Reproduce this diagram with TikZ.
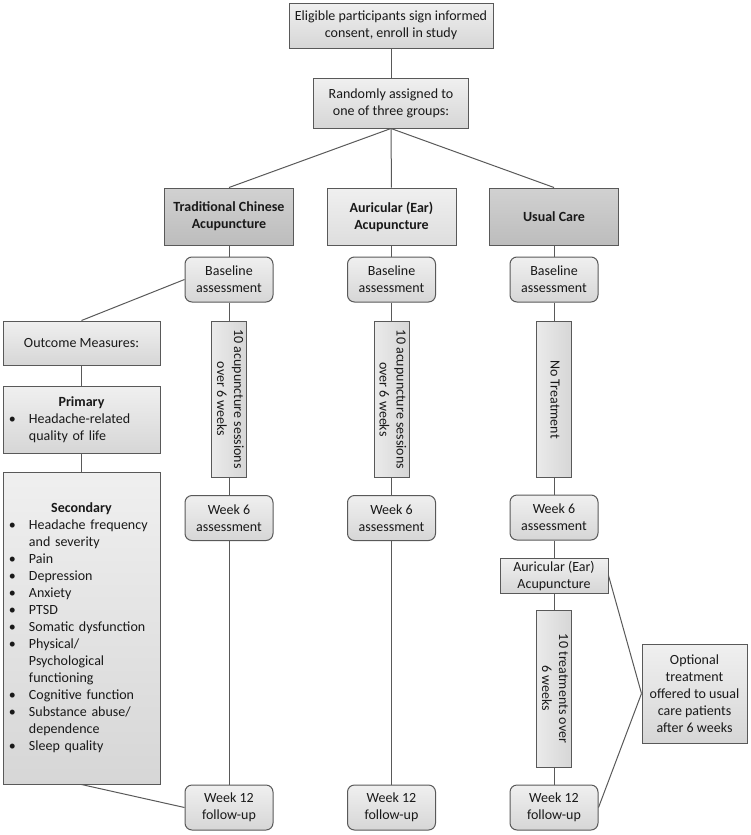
\documentclass[tikz,border=0pt]{standalone}
\usepackage{fontspec}
\setmainfont{Carlito}
\usepackage{graphicx}
\usetikzlibrary{positioning}

% bullet line with hanging indent
\newcommand{\bitem}[1]{\par\hangindent=24pt\hangafter=1\noindent\makebox[24pt][l]{\hspace{4pt}\textbullet}#1\par}
% text turned to read downwards
\newcommand{\vtext}[1]{\rotatebox[origin=c]{-90}{\begin{tabular}{@{}c@{}}#1\end{tabular}}}

\begin{document}
\begin{tikzpicture}[
  x=1pt, y=-1pt,
  box/.style={draw=black!65, line width=1pt, top color=gray!12, bottom color=gray!32,
    inner sep=2pt, align=center, text=black!90, font=\fontsize{14}{17}\selectfont},
  rbox/.style={box, rounded corners=7pt, minimum width=88pt, minimum height=45pt},
  grp/.style={box, minimum width=129pt, minimum height=57pt,
    font=\fontsize{14}{17}\selectfont\bfseries},
  dark/.style={top color=gray!36, bottom color=gray!52},
  vbox/.style={box, minimum width=35pt, minimum height=156pt, inner sep=0pt,
    left color=gray!16, right color=gray!32},
  listbox/.style={box, text width=153pt, align=left},
  edge/.style={draw=black!65, line width=1pt}
]
  \useasboundingbox (0,0) rectangle (750,835);

  % Enrollment and randomisation
  \node[box, minimum width=204pt, minimum height=45pt] (elig) at (391,25.5)
    {Eligible participants sign informed\\consent, enroll in study};
  \node[box, minimum width=155pt, minimum height=50pt] (rand) at (391,103)
    {Randomly assigned to\\one of three groups:};

  % Groups
  \node[grp, dark] (tca) at (229,216.5) {Traditional Chinese\\Acupuncture};
  \node[grp, top color=gray!12, bottom color=gray!26] (aa) at (391.5,216.5) {Auricular (Ear)\\Acupuncture};
  \node[grp, dark] (uc) at (554,216.5) {Usual Care};

  % Baseline
  \node[rbox] (base1) at (229,279.5) {Baseline\\assessment};
  \node[rbox] (base2) at (391.5,279.5) {Baseline\\assessment};
  \node[rbox] (base3) at (554,279.5) {Baseline\\assessment};

  % Treatment phase
  \node[vbox] (ses1) at (229,399) {\vtext{10 acupuncture sessions\\over 6 weeks}};
  \node[vbox] (ses2) at (391.5,399.5) {\vtext{10 acupuncture sessions\\over 6 weeks}};
  \node[vbox] (notr) at (554,399.5) {\vtext{No Treatment}};

  % Week 6
  \node[rbox] (wk61) at (229,518) {Week 6\\assessment};
  \node[rbox] (wk62) at (391.5,518) {Week 6\\assessment};
  \node[rbox] (wk63) at (554,517.5) {Week 6\\assessment};

  % Optional treatment for usual care
  \node[box, minimum width=108pt, minimum height=35pt] (ear) at (554,575.5)
    {Auricular (Ear)\\Acupuncture};
  \node[vbox, minimum height=157pt] (trt) at (554,688.5) {\vtext{10 treatments over\\6 weeks}};
  \node[box, minimum width=105pt, minimum height=99pt] (opt) at (694.5,693.5)
    {Optional\\treatment\\offered to usual\\care patients\\after 6 weeks};

  % Week 12
  \node[rbox] (wk121) at (229,807.5) {Week 12\\follow-up};
  \node[rbox] (wk122) at (391.5,807.5) {Week 12\\follow-up};
  \node[rbox] (wk123) at (554,807.5) {Week 12\\follow-up};

  % Outcome measures
  \node[box, minimum width=157pt, minimum height=44pt] (outc) at (81.5,343) {Outcome Measures:};
  \node[listbox, minimum height=67pt] (prim) at (81.5,419.5) {%
    {\centering\textbf{Primary}\par}
    \bitem{Headache-related\newline quality of life}};
  \node[listbox, minimum height=312pt] (sec) at (81.5,628) {%
    {\centering\textbf{Secondary}\par}
    \bitem{Headache frequency\newline and severity}
    \bitem{Pain}
    \bitem{Depression}
    \bitem{Anxiety}
    \bitem{PTSD}
    \bitem{Somatic dysfunction}
    \bitem{Physical/\newline Psychological\newline functioning}
    \bitem{Cognitive function}
    \bitem{Substance abuse/\newline dependence}
    \bitem{Sleep quality}};

  % Connectors
  \draw[edge] (elig) -- (rand);
  \draw[edge] (rand.south) -- (tca.north);
  \draw[edge] (rand) -- (aa);
  \draw[edge] (rand.south) -- (uc.north);
  \foreach \a/\b in {tca/base1, aa/base2, uc/base3,
      base1/ses1, base2/ses2, base3/notr,
      ses1/wk61, ses2/wk62, notr/wk63,
      wk61/wk121, wk62/wk122,
      wk63/ear, ear/trt, trt/wk123,
      outc/prim, prim/sec}
    \draw[edge] (\a) -- (\b);
  \draw[edge] (base1.west) -- (outc.north);
  \draw[edge] (sec.south) -- (wk121.west);
  \draw[edge] (ear.east) -- (opt.west);
  \draw[edge] (opt.west) -- (wk123.east);
\end{tikzpicture}
\end{document}
